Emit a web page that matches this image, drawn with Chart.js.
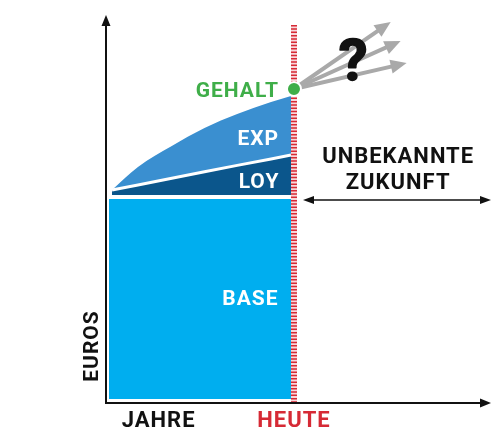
<!DOCTYPE html>
<html>
<head>
<meta charset="utf-8">
<script src="https://cdn.jsdelivr.net/npm/chart.js@4"></script>
<style>
html, body { margin: 0; padding: 0; background: #fff; overflow: hidden; }
#gehaltChart { display: block; }
</style>
</head>
<body>
<canvas id="gehaltChart" width="500" height="439"></canvas>
<script>
// Jahre (heute = 5) und Gehaltsbestandteile
const jahre = [0.16, 0.85, 1.75, 2.62, 3.49, 4.39, 4.92];
const loyalitaet = [53.25, 54.5, 56.2, 57.8, 59.4, 61.0, 62];
const erfahrung = [53.25, 59, 64.25, 68.75, 72.25, 75.25, 76.75];
const basisJahre = [0.08, 4.92];
const basis = [51, 51];
const heute = 5;
const gehaltHeute = 78.5;
// mögliche Zukunft
const zukunftJahre = [7.44, 7.69, 7.84];
const zukunftGehalt = [94.4, 89.9, 84.65];

const punkte = (xs, vals) => xs.map((j, i) => ({x: j, y: vals[i]}));

const datasets = [
    { // 0 BASE
        data: punkte(basisJahre, basis),
        backgroundColor: '#00aeef',
        borderWidth: 0,
        pointRadius: 0,
        fill: {value: 1},
        order: 5
    },
    { // 1 LOY
        data: punkte(jahre, loyalitaet),
        backgroundColor: '#0b568c',
        borderColor: '#ffffff',
        borderWidth: 3,
        pointRadius: 0,
        fill: {value: 52},
        order: 3
    },
    { // 2 EXP
        data: punkte(jahre, erfahrung),
        backgroundColor: '#3a8fd0',
        borderWidth: 0,
        pointRadius: 0,
        cubicInterpolationMode: 'monotone',
        fill: 1,
        order: 4
    }
];
// Pfeile in die Zukunft
zukunftJahre.forEach((j, i) => {
    datasets.push({
        data: [{x: heute, y: gehaltHeute}, {x: j, y: zukunftGehalt[i]}],
        borderColor: '#a9a9a9',
        borderWidth: 4,
        pointRadius: 0,
        fill: false,
        order: 1,
        pfeil: true
    });
});
// GEHALT Punkt
datasets.push({
    data: [{x: heute, y: gehaltHeute}],
    pointBackgroundColor: '#3fae49',
    pointBorderColor: '#ffffff',
    pointBorderWidth: 2,
    pointRadius: 7,
    showLine: false,
    order: 0
});
const punktIndex = datasets.length - 1;

function pfeilspitze(ctx, x, y, winkel, laenge, breite) {
    ctx.save();
    ctx.translate(x, y);
    ctx.rotate(winkel);
    ctx.beginPath();
    ctx.moveTo(0, 0);
    ctx.lineTo(-laenge, -breite / 2);
    ctx.lineTo(-laenge, breite / 2);
    ctx.closePath();
    ctx.fill();
    ctx.restore();
}

function text(ctx, s, x, y, farbe, groesse, align, dick) {
    ctx.save();
    ctx.font = 'bold ' + groesse + 'px Roboto';
    ctx.fillStyle = farbe;
    ctx.textAlign = align || 'center';
    ctx.textBaseline = 'alphabetic';
    ctx.letterSpacing = '1px';
    ctx.fillText(s, x, y);
    if (dick) {
        ctx.strokeStyle = farbe;
        ctx.lineWidth = dick;
        ctx.lineJoin = 'round';
        ctx.strokeText(s, x, y);
    }
    ctx.restore();
}

const skizze = {
    id: 'skizze',
    beforeDatasetDraw(chart, args) {
        if (args.index !== punktIndex) return;
        const ctx = chart.ctx;
        const x = chart.scales.x.getPixelForValue(heute);
        const y0 = chart.scales.y.getPixelForValue(94.5);
        const y1 = chart.scales.y.getPixelForValue(0);
        ctx.save();
        ctx.lineWidth = 6;
        ctx.strokeStyle = 'rgba(235,140,150,0.35)';
        ctx.beginPath(); ctx.moveTo(x, y0); ctx.lineTo(x, y1); ctx.stroke();
        ctx.setLineDash([1.5, 1.8]);
        ctx.strokeStyle = '#d62a35';
        ctx.beginPath(); ctx.moveTo(x, y0); ctx.lineTo(x, y1); ctx.stroke();
        ctx.restore();
    },
    afterDraw(chart) {
        const ctx = chart.ctx;
        const xs = chart.scales.x, ys = chart.scales.y;
        const px = v => xs.getPixelForValue(v);
        const py = v => ys.getPixelForValue(v);
        const a = chart.chartArea;

        // Achsen
        ctx.save();
        ctx.strokeStyle = '#111';
        ctx.fillStyle = '#111';
        ctx.lineWidth = 2;
        ctx.beginPath();
        ctx.moveTo(a.left, a.top + 6);
        ctx.lineTo(a.left, a.bottom);
        ctx.lineTo(a.right - 6, a.bottom);
        ctx.stroke();
        pfeilspitze(ctx, a.left, a.top, -Math.PI / 2, 11, 9);
        pfeilspitze(ctx, a.right, a.bottom, 0, 11, 9);

        // Doppelpfeil unbekannte Zukunft
        const yd = py(50.75), xa = px(5.24), xb = px(10.24);
        ctx.lineWidth = 1.5;
        ctx.beginPath(); ctx.moveTo(xa + 6, yd); ctx.lineTo(xb - 6, yd); ctx.stroke();
        pfeilspitze(ctx, xb, yd, 0, 11, 8);
        pfeilspitze(ctx, xa, yd, Math.PI, 11, 8);
        ctx.restore();

        // Pfeilspitzen grau
        ctx.save();
        ctx.fillStyle = '#a9a9a9';
        chart.data.datasets.forEach((ds, i) => {
            if (!ds.pfeil) return;
            const p = chart.getDatasetMeta(i).data;
            const w = Math.atan2(p[1].y - p[0].y, p[1].x - p[0].x);
            pfeilspitze(ctx, p[1].x + 6 * Math.cos(w), p[1].y + 6 * Math.sin(w), w, 16, 14);
        });
        ctx.restore();

        // Beschriftung
        text(ctx, '?', px(6.59), py(80.75), '#111', 58, 'center', 1.5);
        text(ctx, 'GEHALT', px(4.6), py(76.5), '#3fae49', 21, 'right');
        text(ctx, 'EXP', px(4.05), py(64.5), '#ffffff', 21);
        text(ctx, 'LOY', px(4.07), py(53.75), '#ffffff', 21);
        text(ctx, 'BASE', px(3.84), py(24.5), '#ffffff', 21);
        text(ctx, 'UNBEKANNTE', px(7.77), py(60), '#111', 22);
        text(ctx, 'ZUKUNFT', px(7.77), py(53.5), '#111', 22);
        text(ctx, 'JAHRE', px(1.4), py(-6), '#111', 22);
        text(ctx, 'HEUTE', px(heute), py(-6), '#d62a35', 22);

        ctx.save();
        ctx.translate(px(-0.21), py(14.25));
        ctx.rotate(-Math.PI / 2);
        text(ctx, 'EUROS', 0, 0, '#111', 21);
        ctx.restore();
    }
};

new Chart(document.getElementById('gehaltChart'), {
    type: 'line',
    data: { datasets: datasets },
    options: {
        responsive: false,
        animation: false,
        layout: { padding: { left: 106, right: 7, top: 15, bottom: 36 } },
        scales: {
            x: { type: 'linear', min: 0, max: 10.24, display: false },
            y: { min: 0, max: 97, display: false }
        },
        plugins: {
            legend: { display: false },
            tooltip: { enabled: false }
        }
    },
    plugins: [skizze]
});
</script>
</body>
</html>
